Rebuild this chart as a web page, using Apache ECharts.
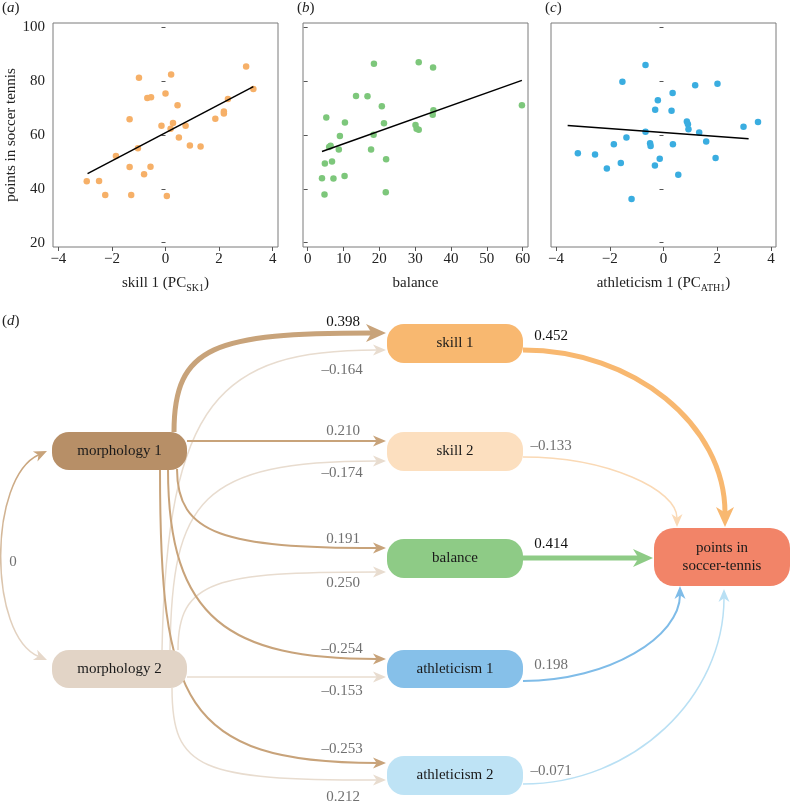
<!DOCTYPE html>
<html><head><meta charset="utf-8">
<script src="https://cdn.jsdelivr.net/npm/echarts@6/dist/echarts.min.js"></script>
<style>html,body{margin:0;padding:0;background:#fff}#c{width:792px;height:805px}</style>
</head><body><div id="c"></div><script>
// ================= DATA =================
const yTicks = [20, 40, 60, 80, 100];
const skillTicks = [-4, -2, 0, 2, 4];
const balanceTicks = [0, 10, 20, 30, 40, 50, 60];
const athTicks = [-4, -2, 0, 2, 4];

// (a) skill 1 (PC_SK1) vs points
const skill1Points = [[-2.94,42.8],[-2.48,42.9],[-2.25,37.7],[-1.85,52.2],[-1.34,65.8],[-1.34,48.1],[-1.28,37.7],[-0.99,81.2],[-1.03,55.0],[-0.80,45.4],[-0.68,73.7],[-0.54,74.0],[-0.56,48.2],[-0.15,63.4],[0.00,75.3],[0.05,37.3],[0.21,82.4],[0.19,62.3],[0.28,64.4],[0.45,71.0],[0.50,59.0],[0.75,63.4],[0.91,56.1],[1.31,55.7],[1.86,66.0],[2.18,68.7],[2.18,67.9],[2.33,73.3],[3.01,85.4],[3.28,77.0]];
const skill1Fit = [[-2.91,45.6],[3.28,77.9]];

// (b) balance vs points
const balancePoints = [[18.5,86.4],[31.0,86.9],[35.0,85.0],[13.5,74.4],[16.7,74.3],[20.7,70.6],[59.8,71.0],[5.2,66.4],[10.4,64.6],[21.3,64.3],[35.1,69.1],[34.9,67.5],[30.1,63.7],[30.4,62.3],[31.0,61.9],[9.0,59.6],[18.4,60.0],[6.4,56.0],[6.0,55.5],[8.7,54.6],[17.7,54.6],[21.9,51.0],[4.8,49.4],[6.8,50.1],[4.0,43.9],[7.2,43.8],[10.3,44.7],[4.7,37.9],[21.8,38.7]];
const balanceFit = [[4.0,53.8],[59.8,80.2]];

// (c) athleticism 1 (PC_ATH1) vs points
const athPoints = [[-0.67,85.9],[-1.53,79.7],[1.18,78.4],[2.01,79.0],[0.34,75.5],[-0.21,72.8],[-0.31,69.3],[0.30,68.9],[0.87,65.0],[0.91,63.9],[0.93,62.1],[2.98,63.0],[3.52,64.8],[-0.67,61.2],[1.33,60.9],[-1.38,59.0],[-1.85,56.5],[-0.50,56.9],[-0.48,55.9],[0.35,56.5],[1.59,57.5],[-3.19,53.2],[-2.55,52.7],[-0.14,51.1],[1.94,51.4],[-1.59,49.6],[-2.11,47.5],[-0.32,48.6],[0.55,45.2],[-1.19,36.2]];
const athFit = [[-3.57,63.5],[3.17,58.6]];

// (d) path model
const nodeNames = ['morphology 1','morphology 2','skill 1','skill 2','balance','athleticism 1','athleticism 2','points in\nsoccer-tennis'];
const pathFrom = [0, 1, 0, 1, 0, 1, 0, 1, 0, 1, 0, 2, 3, 4, 5, 6];
const pathTo   = [2, 2, 3, 3, 4, 4, 5, 5, 6, 6, 1, 7, 7, 7, 7, 7];
const pathCoef = [0.398, -0.164, 0.210, -0.174, 0.191, 0.250, -0.254, -0.153, -0.253, 0.212, 0, 0.452, -0.133, 0.414, 0.198, -0.071];
const pathSignificant = [true, false, false, false, false, false, false, false, false, false, false, true, false, true, false, false];

// ================= LAYOUT / STYLE (diagram units) =================
const FONT = '"Liberation Serif", "Times New Roman", serif';
const nodeLayout = [ // x, y, w, h, r
  [52, 432, 135, 38, 17], [52, 650, 135, 38, 17],
  [387, 324, 136, 39, 17], [387, 432, 136, 39, 17], [387, 539, 136, 39, 17],
  [387, 650, 136, 38, 17], [387, 756, 136, 39, 17], [654, 528, 136, 58, 20]
];
const nodeColor = ['#B78F67','#E2D4C6','#F8B870','#FCDFBF','#8ECB86','#86C0E9','#BEE3F5','#F28468'];
// P0, P1, P2, tip
const edgeRoute = [
  [[174,432],[174,345],[215,333],[386,333]],
  [[162,650],[167,400],[220,350],[386,350]],
  [[187,441],[250,441],[320,441],[386,441]],
  [[170,650],[172,500],[200,461],[386,461]],
  [[177,469],[177,535],[225,548],[386,548]],
  [[178,650],[178,580],[215,572],[386,572]],
  [[168,469],[168,620],[230,659],[386,659]],
  [[187,677],[250,677],[320,677],[386,677]],
  [[160,469],[160,700],[182,763],[386,763]],
  [[172,688],[172,770],[200,780],[386,780]],
  [[47,451],[-12,478],[-12,635],[47,660]],
  [[523,350],[634,350],[725,425],[725,527]],
  [[523,457],[608,457],[677,490],[677,527]],
  [[523,558],[580,558],[620,558],[653,558]],
  [[523,681],[610,681],[680,636],[680,586]],
  [[523,784],[634,784],[724,697],[724,589]]
];
const edgeColor = ['#C8A37A','#E8DCCF','#C8A37A','#E8DCCF','#C8A37A','#E8DCCF','#C8A37A','#E8DCCF','#C8A37A','#E8DCCF',null,'#F8B870','#FAD9B5','#8ECB86','#7FBCE8','#B9E0F4'];
const edgeWidth = [5,1.5,2,1.5,2,1.5,2,1.5,2,1.5,1.5,5,1.5,5,2,1.5];
const labelPos = [[343,322],[342,370],[343,431],[342,473],[343,539],[343,583],[342,649],[342,691],[342,749],[343,797],[13,562],[551,336],[551,446],[551,544],[551,665],[551,771]];

// ================= HELPERS =================
function fmt(v){ return v < 0 ? '\u2013' + (-v).toFixed(3) : (v === 0 ? '0' : v.toFixed(3)); }
function tickFmt(v){ return v < 0 ? '\u2212' + (-v) : String(v); }
function norm(a, b){ const dx = a[0]-b[0], dy = a[1]-b[1]; const l = Math.hypot(dx, dy) || 1; return [dx/l, dy/l]; }
function arrowHead(tip, d, L, W, color){
  const n = [-d[1], d[0]];
  const bx = tip[0]-d[0]*L, by = tip[1]-d[1]*L;
  const nx = tip[0]-d[0]*L*0.72, ny = tip[1]-d[1]*L*0.72;
  return {type:'polygon', shape:{points:[[tip[0],tip[1]],[bx+n[0]*W,by+n[1]*W],[nx,ny],[bx-n[0]*W,by-n[1]*W]]}, style:{fill:color}};
}

const sub = {
  t: {fontSize: 15, fontFamily: FONT, color: '#222', lineHeight: 20, verticalAlign: 'middle'},
  s: {fontSize: 10, fontFamily: FONT, color: '#222', lineHeight: 10, verticalAlign: 'bottom'}
};
const grids = [
  {left: 53, top: 23, width: 225, height: 224},
  {left: 303, top: 23, width: 225, height: 224},
  {left: 551, top: 23, width: 225, height: 224},
  {left: 0, top: 0, width: 792, height: 805}
];
const xRanges = [[-4.2, 4.2, skillTicks, '{t|skill 1 (PC}{s|SK1}{t|)}'], [-1.3, 61.5, balanceTicks, '{t|balance}'], [-4.19, 4.19, athTicks, '{t|athleticism 1 (PC}{s|ATH1}{t|)}']];

const xAxes = xRanges.map((r, i) => ({
  type: 'value', gridIndex: i, min: r[0], max: r[1],
  name: r[3], nameLocation: 'middle', nameGap: 26,
  nameTextStyle: {rich: sub},
  axisLine: {show: false}, splitLine: {show: false},
  axisTick: {show: true, length: 4, customValues: r[2], lineStyle: {color: '#555'}},
  axisLabel: {customValues: r[2], formatter: tickFmt, color: '#222', fontSize: 15, fontFamily: FONT, margin: 5}
}));
xAxes.push({type: 'value', gridIndex: 3, min: 0, max: 792, show: false});
const yAxes = [0,1,2].map(i => ({
  type: 'value', gridIndex: i, min: 18.4, max: 101.5,
  name: i === 0 ? 'points in soccer tennis' : '', nameLocation: 'middle', nameGap: 33,
  nameTextStyle: {fontSize: 15, fontFamily: FONT, color: '#222'},
  axisLine: {show: false}, splitLine: {show: false},
  axisTick: {show: true, length: 4, customValues: yTicks, lineStyle: {color: '#555'}},
  axisLabel: {show: i === 0, customValues: yTicks, color: '#222', fontSize: 15, fontFamily: FONT, margin: 8}
}));
yAxes.push({type: 'value', gridIndex: 3, min: 0, max: 805, inverse: true, show: false});

grids.forEach((g, i) => { if (i < 3) { g.show = true; g.borderColor = '#7a7a7a'; g.borderWidth = 1; } });

const scatterSets = [[skill1Points, skill1Fit, '#F6B068'], [balancePoints, balanceFit, '#7DC77B'], [athPoints, athFit, '#3AADE0']];
const series = [];
scatterSets.forEach((s, i) => {
  series.push({type: 'scatter', xAxisIndex: i, yAxisIndex: i, data: s[0], symbolSize: 6.5, itemStyle: {color: s[2], opacity: 1}, silent: true});
  series.push({type: 'line', xAxisIndex: i, yAxisIndex: i, data: s[1], showSymbol: false, symbol: 'none', lineStyle: {color: '#000', width: 1.5}, silent: true});
});

// edges
series.push({
  type: 'custom', xAxisIndex: 3, yAxisIndex: 3, silent: true,
  data: pathCoef.map((c, i) => [i, i]),
  renderItem: function(params, api){
    const i = params.dataIndex;
    const p = edgeRoute[i].map(q => api.coord(q));
    const w = edgeWidth[i];
    const L = w >= 4 ? 20 : 13, W = w >= 4 ? 9 : 5.5;
    const children = [];
    const dEnd = norm(p[3], p[2]);
    const end = [p[3][0]-dEnd[0]*L*0.7, p[3][1]-dEnd[1]*L*0.7];
    let start = p[0];
    let stroke = edgeColor[i];
    const both = pathFrom[i] === 0 && pathTo[i] === 1;
    let topColor = '#C8A37A', botColor = '#E6D8CA';
    if (both) {
      const dStart = norm(p[0], p[1]);
      start = [p[0][0]-dStart[0]*L*0.7, p[0][1]-dStart[1]*L*0.7];
      stroke = new echarts.graphic.LinearGradient(0, 0, 0, 1, [{offset: 0, color: topColor}, {offset: 1, color: botColor}]);
      children.push(arrowHead(p[0], dStart, L, W, topColor));
    }
    children.unshift({type: 'bezierCurve', shape: {x1: start[0], y1: start[1], cpx1: p[1][0], cpy1: p[1][1], cpx2: p[2][0], cpy2: p[2][1], x2: end[0], y2: end[1]}, style: {stroke: stroke, lineWidth: w, fill: null}});
    children.push(arrowHead(p[3], dEnd, L, W, both ? botColor : edgeColor[i]));
    const lp = api.coord(labelPos[i]);
    children.push({type: 'text', x: lp[0], y: lp[1], style: {text: fmt(pathCoef[i]), fill: pathSignificant[i] ? '#111' : '#707070', fontSize: 15, fontFamily: FONT, align: 'center', verticalAlign: 'middle'}});
    return {type: 'group', children: children};
  }
});
// nodes
series.push({
  type: 'custom', xAxisIndex: 3, yAxisIndex: 3, silent: true,
  data: nodeNames.map((n, i) => [i, i]),
  renderItem: function(params, api){
    const i = params.dataIndex;
    const b = nodeLayout[i];
    const tl = api.coord([b[0], b[1]]), br = api.coord([b[0]+b[2], b[1]+b[3]]);
    return {type: 'group', children: [
      {type: 'rect', shape: {x: tl[0], y: tl[1], width: br[0]-tl[0], height: br[1]-tl[1], r: b[4]}, style: {fill: nodeColor[i]}},
      {type: 'text', x: (tl[0]+br[0])/2, y: (tl[1]+br[1])/2, style: {text: nodeNames[i], fill: '#1a1a1a', fontSize: 15, fontFamily: FONT, align: 'center', verticalAlign: 'middle', lineHeight: 18}}
    ]};
  }
});

const letter = (ch, left, top) => ({text: '{p|(}{i|' + ch + '}{p|)}', left: left, top: top, padding: 0,
  textStyle: {fontWeight: 'normal', rich: {p: {fontSize: 15, fontFamily: FONT, fontWeight: 'normal', color: '#222'}, i: {fontSize: 15, fontFamily: FONT, fontWeight: 'normal', fontStyle: 'italic', color: '#222'}}}});

const chart = echarts.init(document.getElementById('c'), null, {renderer: 'canvas'});
chart.setOption({
  animation: false,
  backgroundColor: '#fff',
  title: [letter('a', 2, 1), letter('b', 297, 1), letter('c', 545, 1), letter('d', 2, 314)],
  grid: grids, xAxis: xAxes, yAxis: yAxes, series: series
});
</script></body></html>
